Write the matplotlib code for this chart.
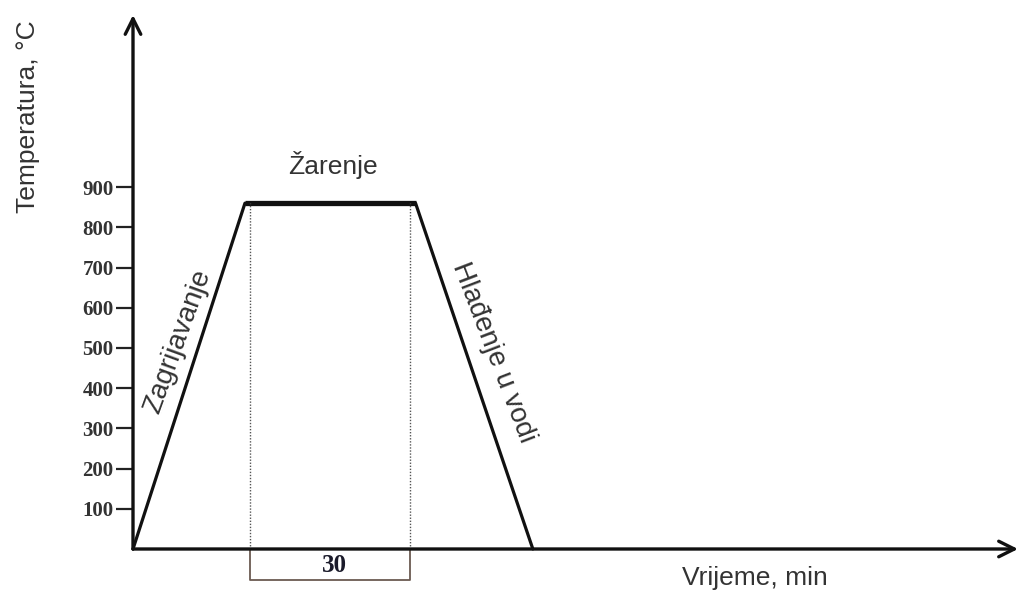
import matplotlib
matplotlib.use("Agg")
import matplotlib.pyplot as plt

# Data
time_pts = [0, 21, 53, 75]
temp_pts = [0, 860, 860, 0]
hold_start = 22
hold_end = 52
hold_label = "30"
y_ticks = [100, 200, 300, 400, 500, 600, 700, 800, 900]
x_max = 166
y_max = 1328

W, H = 1021, 595
fig = plt.figure(figsize=(W / 100, H / 100), dpi=100)
ax = fig.add_axes([133 / W, 46 / H, (1018 - 133) / W, (549 - 15) / H])
ax.set_xlim(0, x_max)
ax.set_ylim(0, y_max)
for s in ax.spines.values():
    s.set_visible(False)

ink = "#111111"
# axes arrows
ax.annotate("", xy=(x_max, 0), xytext=(0, 0), annotation_clip=False,
            arrowprops=dict(arrowstyle="->", lw=2.4, color=ink, mutation_scale=28,
                            shrinkA=0, shrinkB=0))
ax.annotate("", xy=(0, y_max), xytext=(0, 0), annotation_clip=False,
            arrowprops=dict(arrowstyle="->", lw=2.4, color=ink, mutation_scale=28,
                            shrinkA=0, shrinkB=0))

# process curve
ax.plot(time_pts[:2], temp_pts[:2], color=ink, lw=2.3, solid_capstyle="round", clip_on=False)
ax.plot(time_pts[1:3], temp_pts[1:3], color=ink, lw=3.8, solid_capstyle="butt", clip_on=False)
ax.plot(time_pts[2:], temp_pts[2:], color=ink, lw=2.3, solid_capstyle="round", clip_on=False)

# dotted hold markers
for xv in (hold_start, hold_end):
    ax.plot([xv, xv], [0, temp_pts[1]], color="#555555", lw=1.0, ls=(0, (1, 1.2)))
# bracket below axis
br_y = -77
bc = "#6b5a52"
ax.plot([hold_start, hold_start, hold_end, hold_end], [0, br_y, br_y, 0],
        color=bc, lw=1.3, clip_on=False)
fig.text(334 / W, 1 - 566 / H, hold_label, ha="center", va="center",
         fontsize=18, fontweight="bold", family="Liberation Serif", color="#1a1a2a")

# ticks
ax.set_xticks([])
ax.set_yticks(y_ticks)
ax.set_yticklabels([str(v) for v in y_ticks], family="Liberation Serif",
                   fontweight="bold", fontsize=15, color="#333333")
ax.tick_params(axis="y", direction="out", length=12, width=1.6, color="#222222", pad=2)

txt = "#333333"
fig.text(28 / W, 1 - 117 / H, "Temperatura, °C", rotation=90, ha="center", va="center",
         fontsize=19, family="Liberation Sans", color=txt)
fig.text(755 / W, 1 - 578 / H, "Vrijeme, min", ha="center", va="center",
         fontsize=19, family="Liberation Sans", color=txt)
fig.text(333 / W, 1 - 165 / H, "Žarenje", ha="center", va="center", fontsize=19,
         family="Liberation Sans", color=txt)
fig.text(178 / W, 1 - 342 / H, "Zagrijavanje", ha="center", va="center", rotation=70,
         fontsize=20, family="Liberation Sans", color=txt, rotation_mode="anchor")
fig.text(493 / W, 1 - 353 / H, "Hlađenje u vodi", ha="center", va="center", rotation=-69,
         fontsize=20, family="Liberation Sans", color=txt, rotation_mode="anchor")

fig.savefig("out.png", dpi=100, facecolor="white")
